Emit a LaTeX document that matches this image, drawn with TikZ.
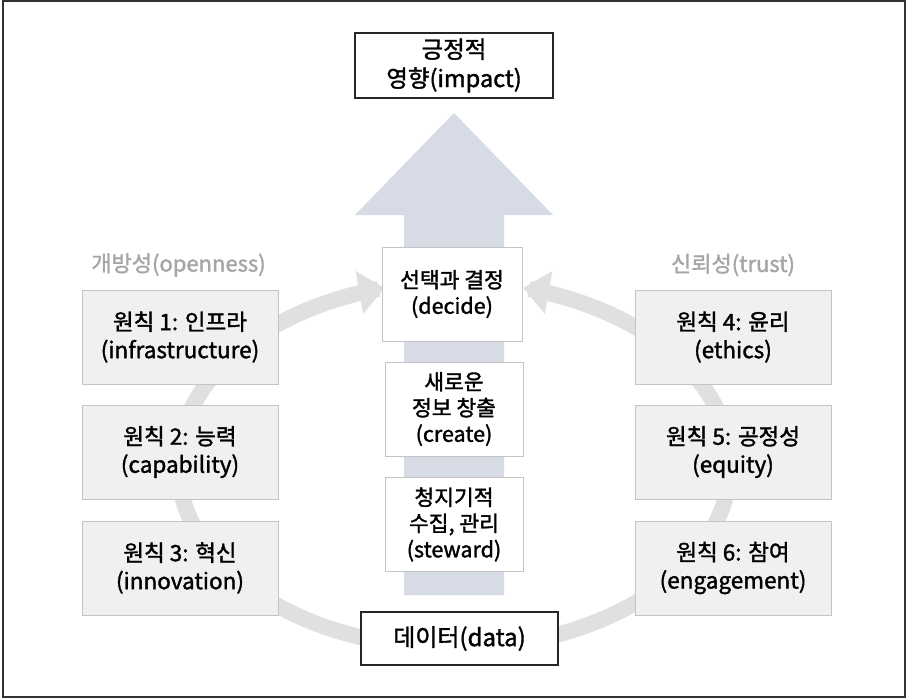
\documentclass[tikz,border=0pt]{standalone}
\usepackage{fontspec}
\setmainfont{Noto Sans CJK KR}[FakeBold=1.5]
\usetikzlibrary{arrows.meta}
\definecolor{arrowfill}{HTML}{D6DBE6}
\definecolor{bandgray}{HTML}{E0E0E0}
\definecolor{boxfill}{HTML}{F0F0F0}
\definecolor{boxline}{HTML}{C4C4C4}
\definecolor{labelgray}{HTML}{A6A6A6}
\begin{document}
\begin{tikzpicture}[x=1pt,y=-1pt,
  pbox/.style={draw=boxline, fill=boxfill, line width=0.9pt, minimum width=196pt, minimum height=94pt, align=center, inner sep=0pt, font=\fontsize{22.5}{28}\selectfont},
  cbox/.style={draw=boxline, fill=white, line width=0.9pt, minimum width=138pt, minimum height=94pt, align=center, inner sep=0pt, font=\fontsize{21.5}{26}\selectfont},
  kbox/.style={draw=black!85, fill=white, line width=1.2pt, align=center, inner sep=0pt},
  grouplabel/.style={text=labelgray, inner sep=0pt, font=\fontsize{22}{26}\selectfont},
  band/.style={draw=bandgray, line width=16pt, -{Triangle[width=42pt,length=26pt]}}
]
\useasboundingbox (0,0) rectangle (908,699);
\draw[line width=1.2pt, black!80] (3,1) rectangle (905,697);

% circular bands
\draw[band] plot[domain=90:255.5, samples=90, smooth] ({454+276*cos(\x)},{465+183*sin(\x)});
\draw[band] plot[domain=90:-75.5, samples=90, smooth] ({454+276*cos(\x)},{465+183*sin(\x)});

% big upward arrow
\fill[arrowfill] (404,595) -- (404,215) -- (355,215) -- (454,113) -- (553,215) -- (504,215) -- (504,595) -- cycle;

% top and bottom boxes
\node[kbox, minimum width=198pt, minimum height=65pt, font=\fontsize{23.5}{29}\selectfont] (impact) at (454,65.5) {긍정적\\영향(impact)};
\node[kbox, minimum width=197pt, minimum height=53pt, font=\fontsize{24}{28}\selectfont] (data) at (459.5,638.5) {데이터(data)};

% centre boxes
\node[cbox, minimum width=140pt] (decide) at (452,294) {선택과 결정\\(decide)};
\node[cbox] (create) at (454,409) {새로운\\정보 창출\\(create)};
\node[cbox] (steward) at (454,524.5) {청지기적\\수집, 관리\\(steward)};

% principle boxes
\node[pbox] (p1) at (180,337) {원칙 1: 인프라\\(infrastructure)};
\node[pbox] (p2) at (180,452) {원칙 2: 능력\\(capability)};
\node[pbox] (p3) at (180,568) {원칙 3: 혁신\\(innovation)};
\node[pbox] (p4) at (733,337) {원칙 4: 윤리\\(ethics)};
\node[pbox] (p5) at (733,452) {원칙 5: 공정성\\(equity)};
\node[pbox] (p6) at (733,568) {원칙 6: 참여\\(engagement)};

% group labels
\node[grouplabel] (open) at (178.5,265) {개방성(openness)};
\node[grouplabel] (trust) at (733,265) {신뢰성(trust)};
\end{tikzpicture}
\end{document}
